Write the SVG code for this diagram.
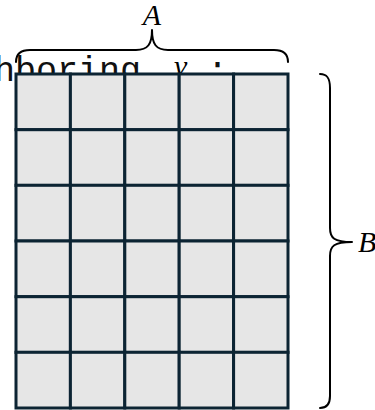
<svg xmlns="http://www.w3.org/2000/svg" width="375" height="410" viewBox="0 0 375 410">
<style>
.cell{fill:#e6e6e6;stroke:#0c2433;stroke-width:3}
.brace{fill:none;stroke:#000;stroke-width:2;stroke-linecap:round;stroke-linejoin:round}
.lbl{font-family:"Liberation Serif",serif;font-style:italic;font-size:30px;fill:#000}
.code{font-family:"Liberation Mono",monospace;font-size:35px;fill:#111}
</style>
<rect width="375" height="410" fill="#fff"/>
<g id="caption">
<text class="code" x="-6" y="81">hboring</text>
<text class="lbl" x="174" y="76" font-size="38">v</text>
<text class="code" x="207" y="81">:</text>
</g>
<g id="grid">
<g id="row1">
<rect class="cell" x="16" y="74" width="54.4" height="55.7"/>
<rect class="cell" x="70.4" y="74" width="54.4" height="55.7"/>
<rect class="cell" x="124.8" y="74" width="54.4" height="55.7"/>
<rect class="cell" x="179.2" y="74" width="54.4" height="55.7"/>
<rect class="cell" x="233.6" y="74" width="54.4" height="55.7"/>
</g>
<g id="row2">
<rect class="cell" x="16" y="129.7" width="54.4" height="55.7"/>
<rect class="cell" x="70.4" y="129.7" width="54.4" height="55.7"/>
<rect class="cell" x="124.8" y="129.7" width="54.4" height="55.7"/>
<rect class="cell" x="179.2" y="129.7" width="54.4" height="55.7"/>
<rect class="cell" x="233.6" y="129.7" width="54.4" height="55.7"/>
</g>
<g id="row3">
<rect class="cell" x="16" y="185.3" width="54.4" height="55.7"/>
<rect class="cell" x="70.4" y="185.3" width="54.4" height="55.7"/>
<rect class="cell" x="124.8" y="185.3" width="54.4" height="55.7"/>
<rect class="cell" x="179.2" y="185.3" width="54.4" height="55.7"/>
<rect class="cell" x="233.6" y="185.3" width="54.4" height="55.7"/>
</g>
<g id="row4">
<rect class="cell" x="16" y="241" width="54.4" height="55.7"/>
<rect class="cell" x="70.4" y="241" width="54.4" height="55.7"/>
<rect class="cell" x="124.8" y="241" width="54.4" height="55.7"/>
<rect class="cell" x="179.2" y="241" width="54.4" height="55.7"/>
<rect class="cell" x="233.6" y="241" width="54.4" height="55.7"/>
</g>
<g id="row5">
<rect class="cell" x="16" y="296.7" width="54.4" height="55.7"/>
<rect class="cell" x="70.4" y="296.7" width="54.4" height="55.7"/>
<rect class="cell" x="124.8" y="296.7" width="54.4" height="55.7"/>
<rect class="cell" x="179.2" y="296.7" width="54.4" height="55.7"/>
<rect class="cell" x="233.6" y="296.7" width="54.4" height="55.7"/>
</g>
<g id="row6">
<rect class="cell" x="16" y="352.3" width="54.4" height="55.7"/>
<rect class="cell" x="70.4" y="352.3" width="54.4" height="55.7"/>
<rect class="cell" x="124.8" y="352.3" width="54.4" height="55.7"/>
<rect class="cell" x="179.2" y="352.3" width="54.4" height="55.7"/>
<rect class="cell" x="233.6" y="352.3" width="54.4" height="55.7"/>
</g>
</g>
<g id="braceA">
<path class="brace" d="M16,62 C16,54 20,50 30,50 L136,50 C148,50 152,44 152,30 C152,44 156,50 168,50 L274,50 C284,50 288,54 288,62"/>
<text class="lbl" x="152" y="25" text-anchor="middle">A</text>
</g>
<g id="braceB">
<path class="brace" d="M320,74 C327,74 330,78 330,88 L330,228 C330,238 334,242 352,242 C334,242 330,246 330,256 L330,396 C330,404 327,408 320,408"/>
<text class="lbl" x="358" y="252">B</text>
</g>
</svg>
